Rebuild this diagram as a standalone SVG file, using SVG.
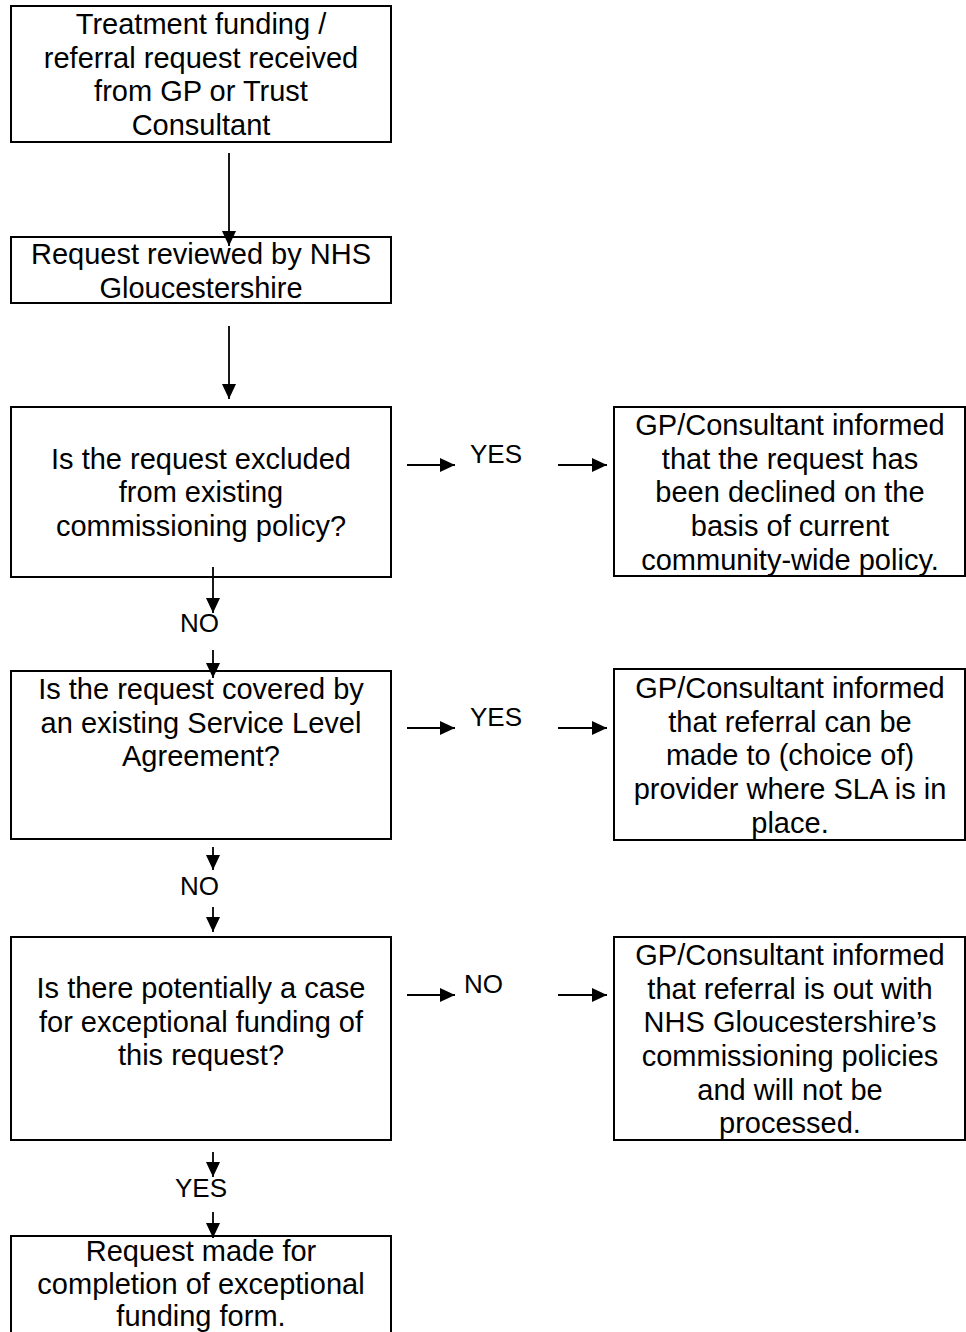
<svg xmlns="http://www.w3.org/2000/svg" width="966" height="1332" viewBox="0 0 966 1332">
<style>
.box{fill:#fff;stroke:#000;stroke-width:2}
.t{font-family:"Liberation Sans",Arial,sans-serif;font-size:29px;fill:#000;text-anchor:middle}
.l{font-family:"Liberation Sans",Arial,sans-serif;font-size:26px;fill:#000}
.c{stroke:#000;stroke-width:1.8;fill:none;marker-end:url(#ah)}
</style>
<defs>
<marker id="ah" markerUnits="userSpaceOnUse" markerWidth="16" markerHeight="14" refX="15" refY="7" orient="auto">
<path d="M0,0 L15,7 L0,14 Z" fill="#000"/>
</marker>
</defs>
<rect width="966" height="1332" fill="#fff"/>
<g id="n1"><rect class="box" x="11" y="6" width="380" height="136"/>
<text class="t" x="201" y="34">Treatment funding /</text>
<text class="t" x="201" y="67.5">referral request received</text>
<text class="t" x="201" y="101">from GP or Trust</text>
<text class="t" x="201" y="134.5">Consultant</text></g>
<g id="n2"><rect class="box" x="11" y="237" width="380" height="66"/>
<text class="t" x="201" y="264">Request reviewed by NHS</text>
<text class="t" x="201" y="297.5">Gloucestershire</text></g>
<g id="n3"><rect class="box" x="11" y="407" width="380" height="170"/>
<text class="t" x="201" y="468.5">Is the request excluded</text>
<text class="t" x="201" y="502">from existing</text>
<text class="t" x="201" y="535.5">commissioning policy?</text></g>
<g id="n4"><rect class="box" x="11" y="671" width="380" height="168"/>
<text class="t" x="201" y="699">Is the request covered by</text>
<text class="t" x="201" y="732.5">an existing Service Level</text>
<text class="t" x="201" y="766">Agreement?</text></g>
<g id="n5"><rect class="box" x="11" y="937" width="380" height="203"/>
<text class="t" x="201" y="998">Is there potentially a case</text>
<text class="t" x="201" y="1031.5">for exceptional funding of</text>
<text class="t" x="201" y="1065">this request?</text></g>
<g id="n6"><rect class="box" x="11" y="1236" width="380" height="120"/>
<text class="t" x="201" y="1261">Request made for</text>
<text class="t" x="201" y="1294">completion of exceptional</text>
<text class="t" x="201" y="1326">funding form.</text></g>
<g id="r1"><rect class="box" x="614" y="407" width="351" height="169"/>
<text class="t" x="790" y="435">GP/Consultant informed</text>
<text class="t" x="790" y="468.5">that the request has</text>
<text class="t" x="790" y="502">been declined on the</text>
<text class="t" x="790" y="535.5">basis of current</text>
<text class="t" x="790" y="569.5">community-wide policy.</text></g>
<g id="r2"><rect class="box" x="614" y="669" width="351" height="171"/>
<text class="t" x="790" y="698">GP/Consultant informed</text>
<text class="t" x="790" y="731.5">that referral can be</text>
<text class="t" x="790" y="765">made to (choice of)</text>
<text class="t" x="790" y="799">provider where SLA is in</text>
<text class="t" x="790" y="832.5">place.</text></g>
<g id="r3"><rect class="box" x="614" y="937" width="351" height="203"/>
<text class="t" x="790" y="965">GP/Consultant informed</text>
<text class="t" x="790" y="998.5">that referral is out with</text>
<text class="t" x="790" y="1032">NHS Gloucestershire’s</text>
<text class="t" x="790" y="1066">commissioning policies</text>
<text class="t" x="790" y="1099.5">and will not be</text>
<text class="t" x="790" y="1133">processed.</text></g>
<g id="connectors">
<line class="c" x1="229" y1="153" x2="229" y2="246"/>
<line class="c" x1="229" y1="326" x2="229" y2="399"/>
<line class="c" x1="213" y1="567" x2="213" y2="613"/>
<line class="c" x1="213" y1="650" x2="213" y2="678"/>
<line class="c" x1="213" y1="847" x2="213" y2="870"/>
<line class="c" x1="213" y1="907" x2="213" y2="932"/>
<line class="c" x1="213" y1="1152" x2="213" y2="1177"/>
<line class="c" x1="213" y1="1212" x2="213" y2="1238"/>
<line class="c" x1="407" y1="465" x2="455" y2="465"/>
<line class="c" x1="558" y1="465" x2="607" y2="465"/>
<line class="c" x1="407" y1="728" x2="455" y2="728"/>
<line class="c" x1="558" y1="728" x2="607" y2="728"/>
<line class="c" x1="407" y1="995" x2="455" y2="995"/>
<line class="c" x1="558" y1="995" x2="607" y2="995"/>
</g>
<g id="labels">
<text class="l" x="470" y="463">YES</text>
<text class="l" x="470" y="726">YES</text>
<text class="l" x="464" y="993">NO</text>
<text class="l" x="180" y="632">NO</text>
<text class="l" x="180" y="895">NO</text>
<text class="l" x="175" y="1197">YES</text>
</g>
</svg>
